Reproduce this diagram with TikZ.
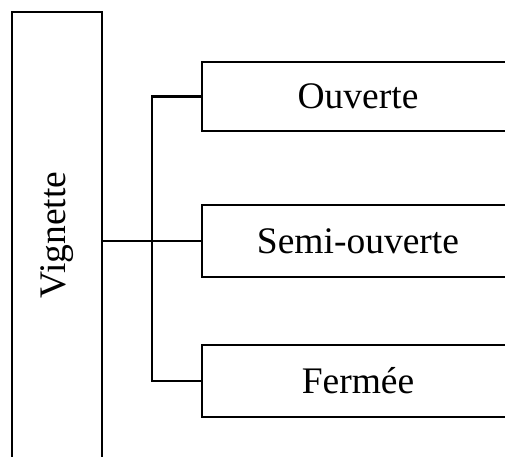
\documentclass[tikz,border=0pt]{standalone}
\usepackage{fontspec}
\setmainfont{Liberation Serif}
\usetikzlibrary{calc}
\begin{document}
\begin{tikzpicture}[x=1pt,y=1pt,
  box/.style={draw=black, line width=2.6pt, fill=white, inner sep=0pt,
    font=\fontsize{37.5}{40}\selectfont},
  conn/.style={draw=black, line width=2.6pt}]
\useasboundingbox (0,0) rectangle (505,-456);
\clip (0,0) rectangle (505,-456);
\node[box, minimum width=446, minimum height=90, rotate=90] (vign) at (57,-235) {Vignette};
\node[box, minimum width=312, minimum height=69] (b1) at (358,-96.5) {Ouverte};
\node[box, minimum width=312, minimum height=72] (b2) at (358,-241) {Semi-ouverte};
\node[box, minimum width=312, minimum height=72] (b3) at (358,-381) {Fermée};
\coordinate (tr) at ($(vign.south)!0.5!(b2.west)$);
\draw[conn] (b2.west -| vign.south) -- (b2.west);
\draw[conn] (b1.west) -- (b1.west -| tr) -- (b3.west -| tr) -- (b3.west);
\end{tikzpicture}
\end{document}
